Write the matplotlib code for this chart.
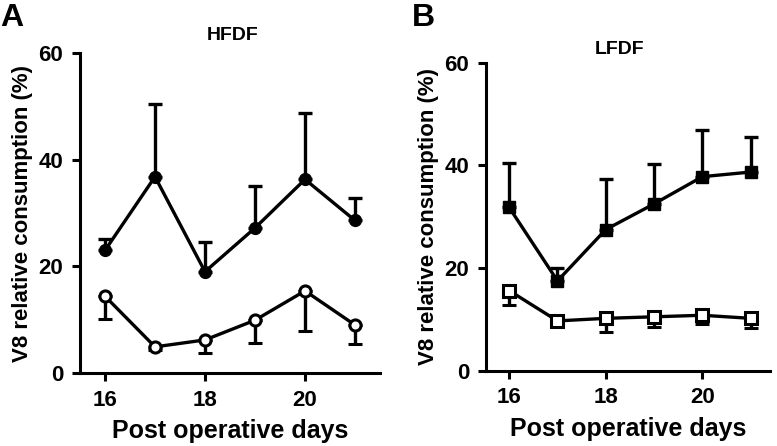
import matplotlib
matplotlib.use('Agg')
import matplotlib.pyplot as plt

plt.rcParams['font.family'] = ['Liberation Sans', 'DejaVu Sans']
plt.rcParams['font.weight'] = 'bold'

days = [16, 17, 18, 19, 20, 21]

# HFDF panel
hfdf_closed = [23.0, 36.8, 19.0, 27.2, 36.3, 28.6]
hfdf_closed_err = [2.1, 13.6, 5.6, 7.9, 12.4, 4.3]
hfdf_open = [14.4, 4.9, 6.2, 9.9, 15.4, 9.0]
hfdf_open_err = [4.3, 0.6, 2.4, 4.3, 7.6, 3.6]

# LFDF panel
lfdf_closed = [31.8, 17.5, 27.5, 32.5, 37.8, 38.7]
lfdf_closed_err = [8.6, 2.6, 9.8, 7.7, 9.1, 6.8]
lfdf_open = [15.6, 9.7, 10.2, 10.5, 10.8, 10.2]
lfdf_open_err = [2.8, 0.6, 2.6, 1.9, 1.7, 1.9]

fig = plt.figure(figsize=(7.77, 4.46), dpi=100)
axA = fig.add_axes([80 / 777, 1 - 373 / 446, 300 / 777, 320 / 446])
axB = fig.add_axes([486 / 777, 1 - 370.7 / 446, 284 / 777, 308 / 446])


def draw(ax, closed, cerr, opn, oerr, marker, xlim):
    ax.errorbar(days, closed, yerr=[[0] * len(cerr), cerr], color='black',
                lw=2.4, marker=marker, ms=8.5, mfc='black', mec='black',
                elinewidth=2.4, capsize=5, capthick=2.4, zorder=3)
    ax.errorbar(days, opn, yerr=[oerr, [0] * len(oerr)], color='black',
                lw=2.4, marker=marker, ms=8, mfc='white', mec='black', mew=2.2,
                elinewidth=2.4, capsize=5, capthick=2.4, zorder=3)
    ax.set_xlim(*xlim)
    ax.set_ylim(0, 60)
    ax.set_xticks([16, 18, 20])
    ax.set_yticks([0, 20, 40, 60])
    for s in ['top', 'right']:
        ax.spines[s].set_visible(False)
    for s in ['left', 'bottom']:
        ax.spines[s].set_linewidth(2.2)
    ax.tick_params(width=2.2, length=6, labelsize=16, pad=6)
    for lab in ax.get_xticklabels() + ax.get_yticklabels():
        lab.set_fontweight('bold')
    ax.set_xlabel('Post operative days', fontsize=18, fontweight='bold', labelpad=6)
    ax.set_ylabel('V8 relative consumption (%)', fontsize=16, fontweight='bold', labelpad=4)


draw(axA, hfdf_closed, hfdf_closed_err, hfdf_open, hfdf_open_err, 'o', (15.5, 21.5))
draw(axB, lfdf_closed, lfdf_closed_err, lfdf_open, lfdf_open_err, 's', (15.52, 21.4))

fig.text(233 / 777, 1 - 36 / 446, 'HFDF', ha='center', va='center', fontsize=14, fontweight='bold')
fig.text(620 / 777, 1 - 50 / 446, 'LFDF', ha='center', va='center', fontsize=14, fontweight='bold')
fig.text(0 / 777, 1 - 18 / 446, 'A', ha='left', va='center', fontsize=23, fontweight='bold')
fig.text(412 / 777, 1 - 18 / 446, 'B', ha='left', va='center', fontsize=23, fontweight='bold')

fig.savefig('out.png', dpi=100)
